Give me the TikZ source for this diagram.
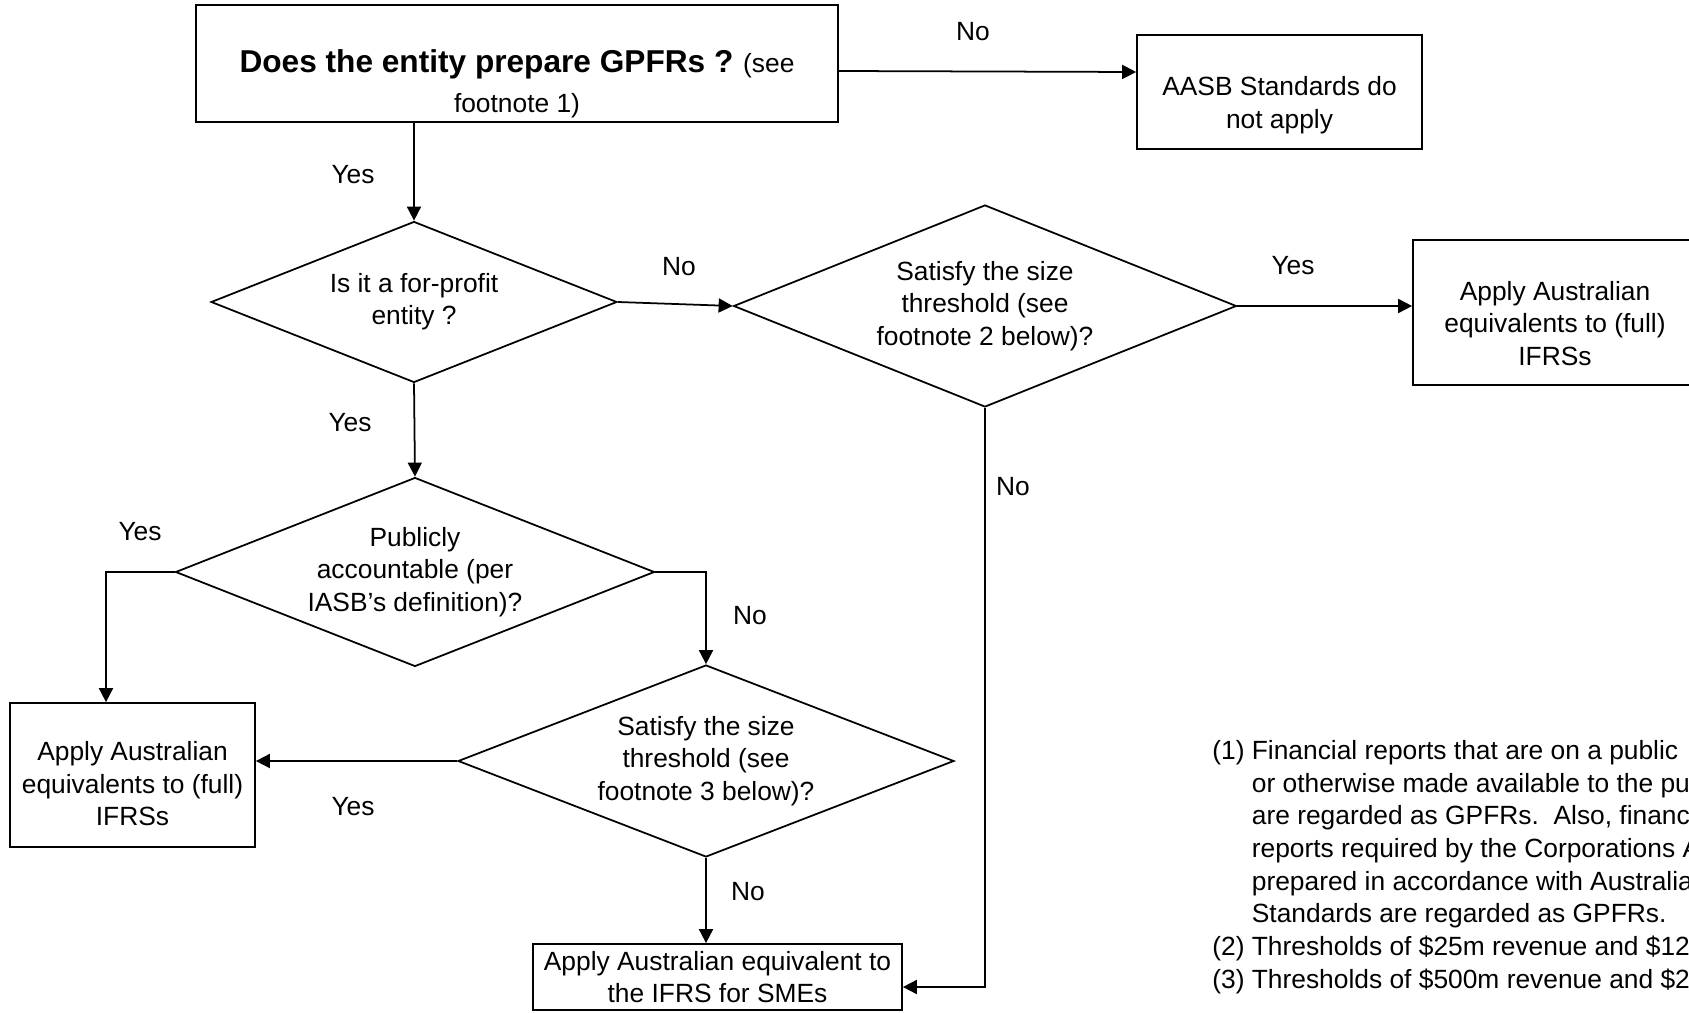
\documentclass[tikz,border=0pt]{standalone}
\usepackage{fontspec}
\setmainfont{Liberation Sans}
\usetikzlibrary{arrows.meta,shapes.geometric}
% invisible strut: pushes the box text down
\newcommand{\padtop}[1]{\rule{0pt}{#1}}

\begin{document}
\begin{tikzpicture}[x=0.02cm, y=-0.02cm,
  txt/.style={font=\fontsize{15pt}{18.4pt}\selectfont},
  box/.style={txt, draw, line width=1pt, align=center, inner sep=2pt},
  ask/.style={txt, draw, diamond, shape aspect=2.5, line width=1pt,
              align=center, inner sep=0pt},
  arr/.style={-{Triangle[length=8pt,width=8pt]}, line width=1pt},
  lbl/.style={txt, inner sep=0pt},
]
\useasboundingbox (0,0) rectangle (1689,1013);
\clip (0,0) rectangle (1689,1013);

% Boxes
\node[box, minimum width=12.84cm, minimum height=2.34cm] (gpfr) at (517,63.5)
  {\padtop{1.27cm}{\fontsize{18pt}{18.4pt}\selectfont\bfseries Does the entity prepare GPFRs ?} (see\\[4pt]footnote 1)};
\node[box, minimum width=5.7cm, minimum height=2.28cm] (aasb) at (1279.5,92)
  {\padtop{0.91cm}AASB Standards do\\not apply};
\node[box, minimum width=5.68cm, minimum height=2.9cm] (fullR) at (1555,312.5)
  {\padtop{0.82cm}Apply Australian\\equivalents to (full)\\IFRSs};
\node[box, minimum width=4.9cm, minimum height=2.88cm] (fullL) at (132.5,775)
  {\padtop{0.73cm}Apply Australian\\equivalents to (full)\\IFRSs};
\node[box, minimum width=7.38cm, minimum height=1.32cm] (sme) at (717.5,977)
  {Apply Australian equivalent to\\the IFRS for SMEs};

% Decisions
\node[ask, minimum width=8.12cm, minimum height=3.22cm] (profit) at (414,302)
  {Is it a for-profit\\entity ?};
\node[ask, minimum width=10.06cm, minimum height=4.04cm] (sizeA) at (985,306)
  {Satisfy the size\\threshold (see\\footnote 2 below)?};
\node[ask, minimum width=9.58cm, minimum height=3.78cm] (public) at (415,572)
  {Publicly\\accountable (per\\IASB's definition)?};
\node[ask, minimum width=9.92cm, minimum height=3.84cm] (sizeB) at (706,761)
  {Satisfy the size\\threshold (see\\footnote 3 below)?};

% Connectors
\draw[arr] ([yshift=-0.15cm]gpfr.east) -- ([yshift=0.4cm]aasb.west);
\draw[arr] (profit.north |- gpfr.south) -- (profit.north);
\draw[arr] (profit.east) -- (sizeA.west);
\draw[arr] (sizeA.east) -- (sizeA.east -| fullR.west);
\draw[arr] (sizeA.south) |- ([yshift=-0.2cm]sme.east);
\draw[arr] (profit.south) -- (public.north);
\draw[arr] (public.west) -| ([xshift=-0.53cm]fullL.north);
\draw[arr] (public.east) -| (sizeB.north);
\draw[arr] (sizeB.west) -- (sizeB.west -| fullL.east);
\draw[arr] (sizeB.south) -- (sizeB.south |- sme.north);

% Yes / No labels
\node[lbl] (no1) at (973,32) {No};
\node[lbl] (yes1) at (353,175) {Yes};
\node[lbl] (no2) at (679,267) {No};
\node[lbl] (yes2) at (1293,266) {Yes};
\node[lbl] (no3) at (1013,487) {No};
\node[lbl] (yes3) at (350,423) {Yes};
\node[lbl] (yes4) at (140,532) {Yes};
\node[lbl] (no4) at (750,616) {No};
\node[lbl] (yes5) at (353,807) {Yes};
\node[lbl] (no5) at (748,892) {No};

% Footnotes (cut at the right edge, as in the source)
\node[lbl, font=\fontsize{15pt}{18.6pt}\selectfont, align=left, anchor=north west]
  (notes) at (1212,740)
  {(1) Financial reports that are on a public\\
   \phantom{(1) }or otherwise made available to the pu\\
   \phantom{(1) }are regarded as GPFRs.\ \ Also, financ\\
   \phantom{(1) }reports required by the Corporations A\\
   \phantom{(1) }prepared in accordance with Australia\\
   \phantom{(1) }Standards are regarded as GPFRs.\\
   (2) Thresholds of \$25m revenue and \$12\\
   (3) Thresholds of \$500m revenue and \$2};
\end{tikzpicture}
\end{document}
